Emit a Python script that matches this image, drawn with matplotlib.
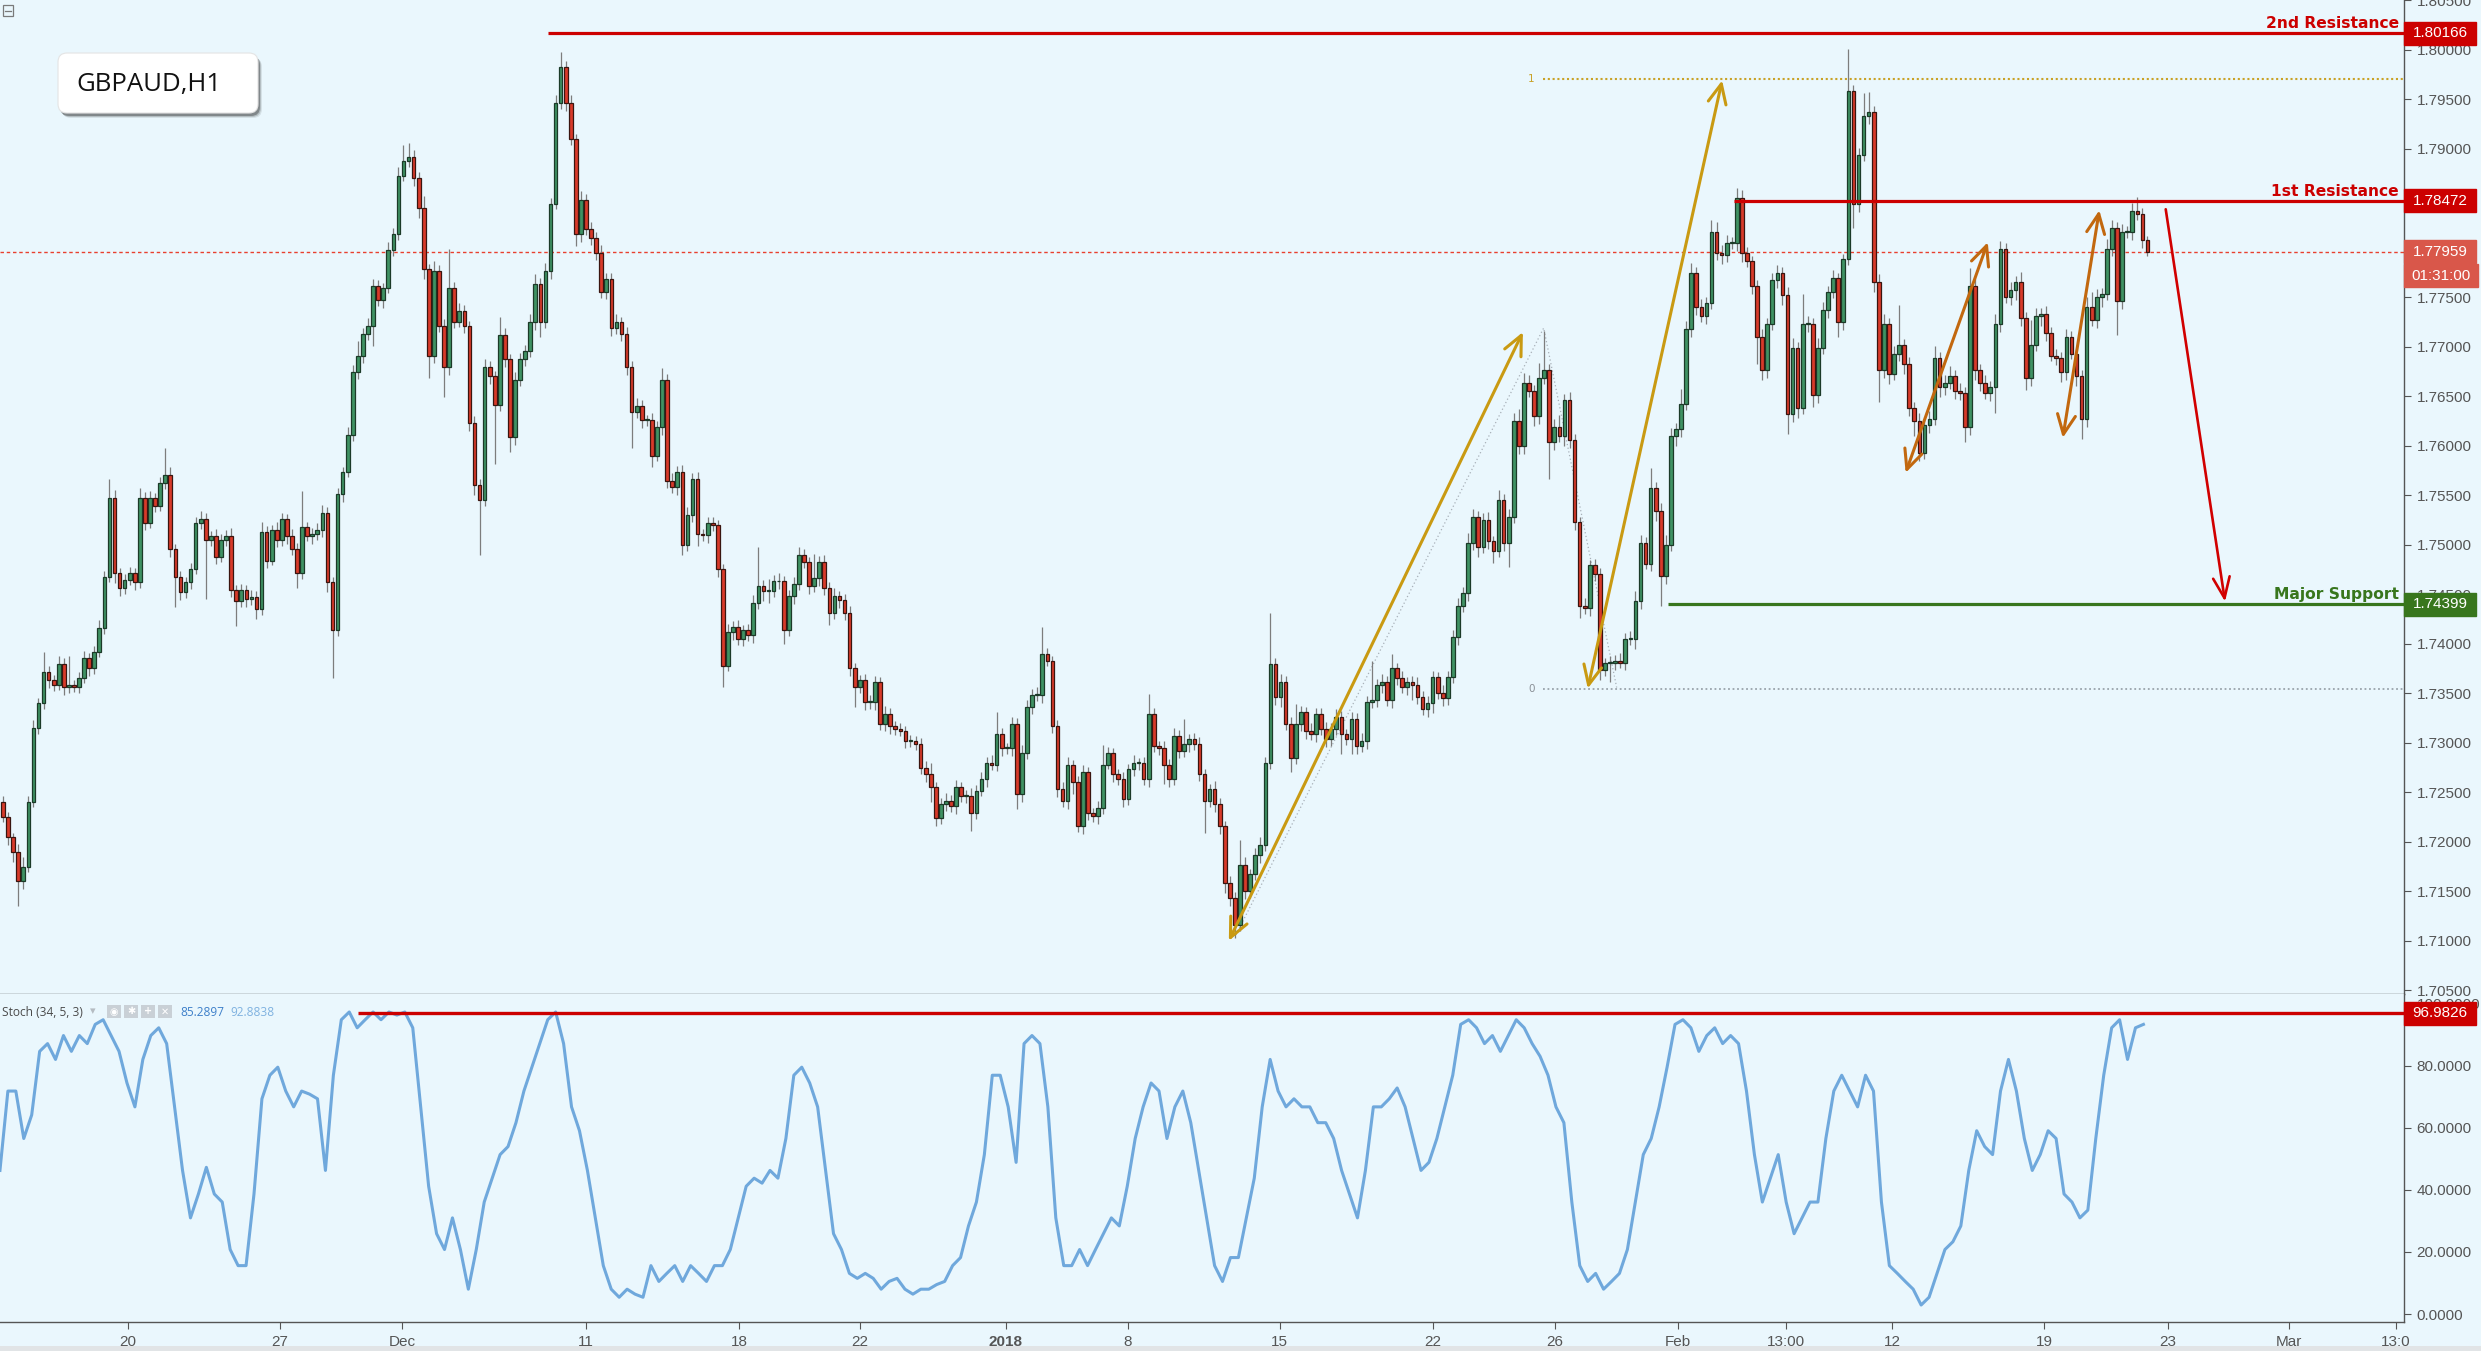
import numpy as np
import matplotlib
matplotlib.use("Agg")
import matplotlib.pyplot as plt
from matplotlib.patches import FancyBboxPatch, Rectangle, FancyArrowPatch
from matplotlib.transforms import blended_transform_factory

# ---------------- data (4-hour steps) ----------------
first_open = 1.7240
closes = [
    1.7225, 1.7205, 1.7190, 1.7160, 1.7175, 1.7240, 1.7315, 1.7340, 1.7371, 1.7363, 1.7358, 1.7380, 1.7356, 1.7358, 1.7356, 1.7365, 1.7386, 1.7375, 1.7392, 1.7416,
    1.7467, 1.7547, 1.7471, 1.7456, 1.7464, 1.7471, 1.7462, 1.7547, 1.7522, 1.7547, 1.7539, 1.7562, 1.7570, 1.7496, 1.7467, 1.7452, 1.7462, 1.7475, 1.7522, 1.7526,
    1.7505, 1.7509, 1.7488, 1.7505, 1.7509, 1.7454, 1.7443, 1.7454, 1.7445, 1.7447, 1.7435, 1.7513, 1.7484, 1.7515, 1.7505, 1.7526, 1.7509, 1.7496, 1.7471, 1.7518,
    1.7509, 1.7511, 1.7515, 1.7532, 1.7462, 1.7414, 1.7551, 1.7573, 1.7611, 1.7674, 1.7691, 1.7713, 1.7721, 1.7761, 1.7747, 1.7759, 1.7798, 1.7814, 1.7872, 1.7887,
    1.7891, 1.7870, 1.7840, 1.7778, 1.7691, 1.7776, 1.7721, 1.7679, 1.7759, 1.7725, 1.7736, 1.7721, 1.7623, 1.7560, 1.7545, 1.7679, 1.7670, 1.7641, 1.7712, 1.7687,
    1.7609, 1.7666, 1.7687, 1.7696, 1.7725, 1.7763, 1.7725, 1.7776, 1.7844, 1.7946, 1.7982, 1.7946, 1.7910, 1.7814, 1.7848, 1.7819, 1.7810, 1.7795, 1.7755, 1.7768,
    1.7719, 1.7725, 1.7713, 1.7679, 1.7634, 1.7640, 1.7626, 1.7626, 1.7590, 1.7619, 1.7666, 1.7564, 1.7558, 1.7573, 1.7500, 1.7530, 1.7566, 1.7511, 1.7510, 1.7522,
    1.7520, 1.7475, 1.7378, 1.7412, 1.7417, 1.7405, 1.7414, 1.7409, 1.7441, 1.7458, 1.7453, 1.7453, 1.7463, 1.7463, 1.7414, 1.7448, 1.7460, 1.7490, 1.7483, 1.7458,
    1.7466, 1.7483, 1.7456, 1.7431, 1.7448, 1.7444, 1.7431, 1.7375, 1.7356, 1.7363, 1.7341, 1.7341, 1.7361, 1.7319, 1.7329, 1.7317, 1.7314, 1.7312, 1.7302, 1.7302,
    1.7299, 1.7275, 1.7268, 1.7255, 1.7224, 1.7238, 1.7241, 1.7236, 1.7255, 1.7246, 1.7246, 1.7229, 1.7251, 1.7263, 1.7280, 1.7278, 1.7309, 1.7295, 1.7295, 1.7319,
    1.7248, 1.7290, 1.7336, 1.7348, 1.7348, 1.7390, 1.7383, 1.7317, 1.7253, 1.7241, 1.7278, 1.7260, 1.7216, 1.7270, 1.7229, 1.7226, 1.7234, 1.7278, 1.7290, 1.7268,
    1.7263, 1.7243, 1.7273, 1.7280, 1.7280, 1.7263, 1.7329, 1.7297, 1.7295, 1.7278, 1.7263, 1.7307, 1.7292, 1.7299, 1.7304, 1.7299, 1.7268, 1.7241, 1.7253, 1.7238,
    1.7216, 1.7158, 1.7143, 1.7116, 1.7177, 1.7150, 1.7167, 1.7187, 1.7197, 1.7280, 1.7380, 1.7346, 1.7361, 1.7319, 1.7285, 1.7319, 1.7331, 1.7312, 1.7309, 1.7329,
    1.7314, 1.7304, 1.7314, 1.7326, 1.7309, 1.7304, 1.7324, 1.7297, 1.7302, 1.7341, 1.7343, 1.7358, 1.7361, 1.7343, 1.7375, 1.7365, 1.7356, 1.7361, 1.7358, 1.7346,
    1.7334, 1.7340, 1.7366, 1.7350, 1.7345, 1.7366, 1.7407, 1.7438, 1.7451, 1.7502, 1.7528, 1.7498, 1.7525, 1.7504, 1.7494, 1.7545, 1.7502, 1.7528, 1.7625, 1.7600,
    1.7663, 1.7655, 1.7630, 1.7668, 1.7676, 1.7604, 1.7619, 1.7610, 1.7646, 1.7606, 1.7523, 1.7438, 1.7436, 1.7479, 1.7470, 1.7373, 1.7381, 1.7381, 1.7383, 1.7381,
    1.7405, 1.7405, 1.7443, 1.7502, 1.7481, 1.7557, 1.7534, 1.7468, 1.7500, 1.7610, 1.7617, 1.7642, 1.7718, 1.7774, 1.7740, 1.7731, 1.7744, 1.7816, 1.7795, 1.7793,
    1.7805, 1.7805, 1.7850, 1.7795, 1.7786, 1.7761, 1.7710, 1.7676, 1.7723, 1.7767, 1.7774, 1.7752, 1.7632, 1.7699, 1.7638, 1.7723, 1.7723, 1.7651, 1.7699, 1.7737,
    1.7755, 1.7769, 1.7725, 1.7788, 1.7958, 1.7844, 1.7893, 1.7933, 1.7937, 1.7765, 1.7676, 1.7723, 1.7672, 1.7693, 1.7702, 1.7682, 1.7638, 1.7625, 1.7593, 1.7621,
    1.7627, 1.7689, 1.7659, 1.7663, 1.7670, 1.7655, 1.7653, 1.7619, 1.7761, 1.7676, 1.7663, 1.7653, 1.7659, 1.7723, 1.7799, 1.7750, 1.7757, 1.7765, 1.7729, 1.7668,
    1.7702, 1.7731, 1.7733, 1.7714, 1.7691, 1.7689, 1.7674, 1.7710, 1.7693, 1.7670, 1.7627, 1.7740, 1.7727, 1.7750, 1.7753, 1.7799, 1.7820, 1.7746, 1.7816, 1.7816,
    1.7837, 1.7834, 1.7808, 1.7796,
]
# wick lengths beyond the body, in pips
up_wick = [
    6,5,4,8,10,6,8,5,21,6,5,8,6,30,5,6,7,5,6,8,
    6,19,8,5,6,6,5,10,6,7,5,6,28,8,5,6,5,7,6,8,
    6,5,7,6,6,8,5,6,5,7,6,10,6,5,8,6,5,7,6,36,
    5,6,7,8,6,5,6,5,8,7,15,6,8,7,6,5,8,6,9,17,
    15,8,6,12,5,10,6,7,40,6,8,6,5,7,6,8,6,5,18,7,
    6,8,7,6,8,10,6,8,6,8,15,6,8,5,9,6,7,6,8,6,
    6,8,5,7,6,8,6,5,7,6,12,6,8,6,7,8,6,7,5,6,
    6,5,6,8,6,7,5,6,8,40,6,12,6,8,5,6,7,8,6,5,
    25,6,7,6,8,5,6,7,6,5,6,7,6,5,8,6,5,6,5,6,
    5,6,7,12,5,6,8,6,7,5,6,8,6,7,6,8,22,6,5,7,
    6,8,7,6,8,27,6,5,6,7,8,5,6,8,6,5,7,20,6,5,
    6,7,6,8,5,6,20,6,5,7,6,8,6,25,5,6,7,6,5,8,
    6,5,7,6,25,8,6,7,8,6,51,6,8,6,7,20,6,5,8,6,
    6,7,6,8,6,5,7,6,8,6,40,6,8,6,15,6,7,5,6,8,
    6,7,6,5,8,6,7,8,6,10,8,6,7,8,5,10,6,8,8,12,
    10,8,6,15,40,6,8,12,6,8,6,5,8,6,7,6,5,7,6,8,
    6,8,10,8,6,20,6,8,10,8,6,15,8,10,6,8,6,12,10,8,
    8,6,10,8,6,5,6,8,6,7,8,6,8,10,6,30,8,6,10,8,
    6,8,5,6,43,6,8,23,20,6,8,10,6,8,40,6,8,6,8,6,
    8,12,6,8,10,6,8,6,18,8,6,8,6,10,8,6,8,6,10,6,
    25,8,6,8,6,7,6,8,6,5,6,10,15,8,6,10,8,6,8,6,
    8,14,6,4,
]
dn_wick = [
    5,8,10,25,8,6,5,6,6,8,6,5,8,6,5,6,5,8,6,5,
    6,5,10,8,6,5,8,6,7,5,6,5,6,8,30,8,6,7,5,6,
    60,6,8,5,6,7,25,6,8,6,10,6,8,5,7,6,8,6,15,6,
    5,8,6,7,10,49,6,8,5,6,7,8,6,20,6,8,5,7,6,5,
    6,8,10,10,23,8,6,30,8,6,5,7,8,10,55,6,8,60,6,8,
    15,8,6,7,6,8,15,6,8,5,6,8,6,12,8,6,7,8,6,7,
    8,6,7,8,36,6,8,6,12,6,8,7,6,8,10,6,7,12,6,8,
    6,8,22,6,8,6,7,6,8,6,10,12,6,8,14,6,8,6,7,8,
    6,8,7,12,6,8,7,8,20,6,8,7,8,6,7,8,6,5,7,6,
    6,7,8,15,8,6,7,6,8,6,7,18,6,5,8,6,7,8,6,8,
    15,8,6,7,6,8,6,7,8,6,8,12,6,8,7,6,8,6,5,8,
    6,8,6,7,8,6,8,6,7,20,8,6,7,6,8,6,7,32,6,8,
    8,10,8,13,6,8,7,6,8,6,7,8,10,6,15,6,7,8,6,8,
    6,8,7,6,20,6,15,8,6,8,6,7,8,6,8,7,6,8,15,7,
    6,8,10,6,8,7,6,8,6,8,7,10,6,8,12,6,8,25,6,8,
    8,6,10,8,6,38,8,6,10,8,8,12,6,8,7,10,6,20,8,6,
    8,6,10,8,6,8,10,30,8,6,10,8,6,8,8,6,8,6,8,10,
    8,6,8,10,6,8,28,10,8,6,8,10,20,8,10,6,8,12,8,6,
    8,6,15,8,6,24,8,6,8,10,32,8,10,6,8,10,8,15,8,6,
    8,6,10,8,6,8,7,15,8,10,8,6,8,26,8,6,8,10,8,12,
    8,6,10,8,6,8,10,8,6,10,20,8,6,8,10,6,8,34,8,6,
    8,6,8,5,
]

# Stochastic %K read along the lower pane, left edge to last bar
stoch_k = [
    46.3, 71.9, 71.9, 56.6, 64.2, 84.7, 87.2, 82.1, 89.8, 84.7, 89.8, 87.2, 93.4, 94.9, 89.8, 84.7, 74.5, 66.8, 82.1, 89.8,
    92.3, 87.2, 66.8, 46.3, 31.0, 38.7, 47.3, 38.7, 36.1, 20.8, 15.6, 15.6, 38.7, 69.4, 77.0, 79.6, 71.9, 66.8, 71.9, 70.9,
    69.4, 46.3, 77.0, 94.9, 97.4, 92.3, 94.9, 97.4, 94.9, 97.4, 96.4, 97.4, 92.3, 66.8, 41.2, 25.9, 20.8, 31.0, 20.8, 8.0,
    20.8, 36.1, 43.8, 51.4, 54.0, 61.7, 71.9, 79.6, 87.2, 94.9, 97.4, 87.2, 66.8, 59.1, 46.3, 31.0, 15.6, 8.0, 5.4, 8.0,
    6.4, 5.4, 15.6, 10.5, 13.1, 15.6, 10.5, 15.6, 13.1, 10.5, 15.6, 15.6, 20.8, 31.0, 41.2, 43.8, 42.2, 46.3, 43.8, 56.6,
    77.0, 79.6, 74.5, 66.8, 46.3, 25.9, 20.8, 13.1, 11.5, 13.1, 11.5, 8.0, 10.5, 11.5, 8.0, 6.4, 8.0, 8.0, 9.5, 10.5,
    15.6, 18.2, 28.4, 36.1, 51.4, 77.0, 77.0, 66.8, 48.9, 87.2, 89.8, 87.2, 66.8, 31.0, 15.6, 15.6, 20.8, 15.6, 20.8, 25.9,
    31.0, 28.4, 41.2, 56.6, 66.8, 74.5, 71.9, 56.6, 66.8, 71.9, 61.7, 46.3, 31.0, 15.6, 10.5, 18.2, 18.2, 31.0, 43.8, 66.8,
    82.1, 71.9, 66.8, 69.4, 66.8, 66.8, 61.7, 61.7, 56.6, 46.3, 38.7, 31.0, 46.3, 66.8, 66.8, 69.4, 72.9, 66.8, 56.6, 46.3,
    48.9, 56.6, 66.8, 77.0, 93.4, 94.9, 92.3, 87.2, 89.8, 84.7, 89.8, 94.9, 92.3, 87.2, 83.1, 77.0, 66.8, 61.7, 36.1, 15.6,
    10.5, 13.1, 8.0, 10.5, 13.1, 20.8, 36.1, 51.4, 56.6, 66.8, 79.6, 93.4, 94.9, 92.3, 84.7, 89.8, 92.3, 87.2, 89.8, 87.2,
    71.9, 51.4, 36.1, 43.8, 51.4, 36.1, 25.9, 31.0, 36.1, 36.1, 56.6, 71.9, 77.0, 71.9, 66.8, 77.0, 71.9, 36.1, 15.6, 13.1,
    10.5, 8.0, 2.9, 5.4, 13.1, 20.8, 23.3, 28.4, 46.3, 59.1, 54.0, 51.4, 71.9, 82.1, 71.9, 56.6, 46.3, 51.4, 59.1, 56.6,
    38.7, 36.1, 31.0, 33.5, 56.6, 77.0, 92.3, 94.9, 82.1, 92.3, 93.4,
]
stoch_first_bar = -0.6
stoch_last_bar = 422.2

price_ticks = np.round(np.arange(1.705, 1.8051, 0.005), 3)
stoch_ticks = [0, 20, 40, 60, 80, 100]
x_tick_bars = [24.6, 54.6, 78.8, 115.0, 145.2, 169.0, 197.8, 221.9, 251.8, 282.1,
               306.1, 330.4, 351.7, 372.6, 402.6, 427.0, 450.9, 472.0]
x_tick_labels = ['20', '27', 'Dec', '11', '18', '22', '2018', '8', '15', '22',
                 '26', 'Feb', '13:00', '12', '19', '23', 'Mar', '13:0']

res2, res1, sup, last_price = 1.80166, 1.78472, 1.74399, 1.77959
stoch_level = 96.9826
fib_one, fib_zero = 1.7970, 1.73538
fib_pts_x = [243.2, 303.9, 318.3]
fib_pts_y = [1.7106, 1.77188, 1.73558]
gold_arrows = [((241.8, 1.7100), (299.8, 1.77147)), ((312.6, 1.73548), (339.1, 1.79688))]
orange_arrows = [((375.3, 1.75726), (391.5, 1.78054)), ((406.3, 1.76079), (413.5, 1.78377))]
red_arrow = ((426.6, 1.78387), (438.3, 1.74425))

# ---------------- figure ----------------
W, H = 2481, 1351
BG = '#eaf7fd'
fig = plt.figure(figsize=(W / 100, H / 100), dpi=100)
fig.patch.set_facecolor(BG)

def rect(x0, y0, x1, y1):
    return [x0 / W, 1 - y1 / H, (x1 - x0) / W, (y1 - y0) / H]

ax = fig.add_axes(rect(0, 0, 2404, 994))
axs = fig.add_axes(rect(0, 994, 2404, 1322), sharex=ax)
for a in (ax, axs):
    a.set_facecolor(BG)
    for s in ('top', 'left'):
        a.spines[s].set_visible(False)
    for s in ('right', 'bottom'):
        a.spines[s].set_color('#555555')
        a.spines[s].set_linewidth(1.0)
    a.yaxis.tick_right()
    a.tick_params(axis='y', direction='out', length=5, color='#555555',
                  labelcolor='#555555', labelsize=11, pad=4)

XMIN, XMAX = -0.59, 473.6
YMIN, YMAX = 1.70463, 1.80484
ax.set_xlim(XMIN, XMAX)
ax.set_ylim(YMIN, YMAX)
axs.set_ylim(-2.58, 103.2)

# candles
n = min(len(closes), len(up_wick), len(dn_wick))
c = np.array(closes[:n])
o = np.r_[first_open, c[:-1]]
hi = np.maximum(o, c) + np.array(up_wick[:n]) * 1e-4
lo = np.minimum(o, c) - np.array(dn_wick[:n]) * 1e-4
idx = np.arange(n)
up = c >= o
ax.vlines(idx, lo, hi, color='#7d7d7d', lw=0.9, zorder=2)
bh = np.maximum(np.abs(c - o), 0.00008)
bb = np.minimum(o, c)
ax.bar(idx[up], bh[up], bottom=bb[up], width=0.72, color='#3f9263',
       edgecolor='#1c3a28', linewidth=0.9, zorder=3)
ax.bar(idx[~up], bh[~up], bottom=bb[~up], width=0.72, color='#d83a2a',
       edgecolor='#3a1510', linewidth=0.9, zorder=3)

ax.set_yticks(price_ticks)
ax.set_yticklabels([f'{v:.5f}' for v in price_ticks], family='Liberation Sans')
ax.tick_params(axis='x', which='both', bottom=False, labelbottom=False)

# horizontal levels
ax.axhline(last_price, color='#e8402f', lw=1.0, ls=(0, (2.5, 2)), zorder=1)
ax.hlines(res2, 107.5, XMAX, color='#cc0000', lw=2.3, zorder=4)
ax.hlines(res1, 341.4, XMAX, color='#cc0000', lw=2.3, zorder=4)
ax.hlines(sup, 328.4, XMAX, color='#38761d', lw=2.3, zorder=4)
ax.hlines(fib_one, 303.8, XMAX, color='#c9a227', lw=1.5, ls=(0, (1, 1.3)), zorder=1)
ax.hlines(fib_zero, 303.8, XMAX, color='#9aa3ab', lw=1.3, ls=(0, (1, 1.5)), zorder=1)
ax.plot(fib_pts_x, fib_pts_y, color='#a8b0b8', lw=0.9, ls=(0, (1, 2)), zorder=1)
ax.text(302.1, fib_one, '1', color='#c9a227', fontsize=7.5, ha='right', va='center')
ax.text(302.1, fib_zero, '0', color='#8a9096', fontsize=7.5, ha='right', va='center')

btr = blended_transform_factory(ax.transAxes, ax.transData)
for txt, yv, col in (('2nd Resistance', res2, '#cc0000'),
                     ('1st Resistance', res1, '#cc0000'),
                     ('Major Support', sup, '#38761d')):
    ax.annotate(txt, xy=(1.0, yv), xycoords=btr, xytext=(-5, 2),
                textcoords='offset pixels', ha='right', va='bottom', color=col,
                fontsize=11.2, fontweight='bold', family='DejaVu Sans', zorder=6)

# arrows
def arrow(p0, p1, col, style, lw):
    ar = FancyArrowPatch(p0, p1, arrowstyle=style, mutation_scale=10, color=col,
                         lw=lw, shrinkA=0, shrinkB=0, zorder=5,
                         transform=ax.transData)
    ax.add_patch(ar)

for p0, p1 in gold_arrows:
    arrow(p0, p1, '#c99a12', '<->,head_length=1.4,head_width=0.65', 2.2)
for p0, p1 in orange_arrows:
    arrow(p0, p1, '#c2680f', '<->,head_length=1.4,head_width=0.65', 2.2)
arrow(red_arrow[0], red_arrow[1], '#d10000', '->,head_length=1.5,head_width=0.6', 1.9)

# price boxes on the right axis
def box(axis, yv, text, col, px_per_unit, y_off_px=0, x_w=72):
    tr = blended_transform_factory(axis.transAxes, axis.transData)
    h = 23 / px_per_unit
    yc = yv - y_off_px / px_per_unit
    axis.add_patch(Rectangle((1.0, yc - h / 2), x_w / 2404, h, transform=tr,
                             color=col, clip_on=False, zorder=7))
    axis.text(1.0 + (x_w / 2) / 2404, yc, text, transform=tr, color='white',
              fontsize=11, ha='center', va='center', family='Liberation Sans',
              clip_on=False, zorder=8)

PPU = 994 / (YMAX - YMIN)
box(ax, res2, f'{res2:.5f}', '#cc0000', PPU)
box(ax, res1, f'{res1:.5f}', '#cc0000', PPU)
box(ax, last_price, f'{last_price:.5f}', '#d9574a', PPU)
box(ax, last_price, '01:31:00', '#d9574a', PPU, y_off_px=24, x_w=74)
box(ax, sup, f'{sup:.5f}', '#38761d', PPU)

# stochastic pane
sx = np.linspace(stoch_first_bar, stoch_last_bar, len(stoch_k))
axs.plot(sx, stoch_k, color='#6fa8dc', lw=2.2, zorder=3, solid_joinstyle='round')
axs.hlines(stoch_level, 70.0, XMAX, color='#cc0000', lw=2.4, zorder=4)
axs.set_yticks(stoch_ticks)
axs.set_yticklabels([f'{v:.4f}' for v in stoch_ticks], family='Liberation Sans')
box(axs, stoch_level, f'{stoch_level:.4f}', '#cc0000', 328 / (103.2 + 2.58))

axs.set_xticks(x_tick_bars)
axs.set_xticklabels(x_tick_labels, family='Liberation Sans')
axs.tick_params(axis='x', direction='out', length=5, color='#555555',
                labelcolor='#555555', labelsize=11, pad=4)
for lab in axs.get_xticklabels():
    if lab.get_text() == '2018':
        lab.set_fontweight('bold')

# ---------------- overlay (interface elements) ----------------
ov = fig.add_axes([0, 0, 1, 1])
ov.set_xlim(0, W)
ov.set_ylim(H, 0)
ov.axis('off')
ov.patch.set_alpha(0)
ov.set_zorder(10)

ov.add_patch(Rectangle((3, 5), 10, 11, fill=False, ec='#7a7a7a', lw=0.9))
ov.plot([5, 11], [10.5, 10.5], color='#7a7a7a', lw=0.9)

for k, al in enumerate([0.10, 0.18, 0.35]):
    ov.add_patch(FancyBboxPatch((58 + 4 - k, 53 + 5 - k), 200, 60,
                                boxstyle='round,pad=0,rounding_size=9',
                                fc='#222222', ec='none', alpha=al))
ov.add_patch(FancyBboxPatch((58, 53), 200, 60, boxstyle='round,pad=0,rounding_size=9',
                            fc='white', ec='#e4e4e4', lw=0.8))
ov.text(76, 84, 'GBPAUD,H1', fontsize=18.5, family='Open Sans', color='#111111',
        va='center', ha='left')

ov.text(2, 1012, 'Stoch (34, 5, 3)', fontsize=8.6, family='Open Sans',
        color='#4a4a4a', va='center', ha='left')
ov.text(90, 1011, '▾', fontsize=8, family='DejaVu Sans', color='#b5bcc2',
        va='center', ha='left')
for k, sym in enumerate(['◉', '✱', '+', '✕']):
    x0 = 107 + 17 * k
    ov.add_patch(Rectangle((x0, 1005), 14, 13, fc='#c9d0d6', ec='none'))
    ov.text(x0 + 7, 1011.5, sym, fontsize=7, family='DejaVu Sans', color='white',
            ha='center', va='center', fontweight='bold')
ov.text(180, 1012, '85.2897', fontsize=8.6, family='Open Sans', color='#3d7fc9',
        va='center', ha='left')
ov.text(230, 1012, '92.8838', fontsize=8.6, family='Open Sans', color='#7fb2e0',
        va='center', ha='left')
ov.add_patch(Rectangle((0, 1346), W, 5, fc='#e1e4e6', ec='none'))

fig.savefig('out.png', dpi=100, facecolor=BG)
